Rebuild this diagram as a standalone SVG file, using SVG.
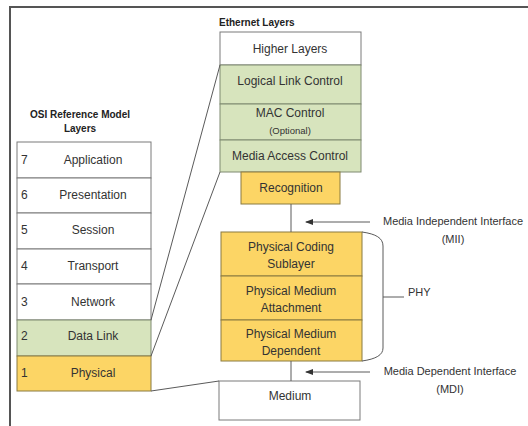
<svg xmlns="http://www.w3.org/2000/svg" width="528" height="426" viewBox="0 0 528 426">
<style>
text{font-family:"Liberation Sans",Arial,sans-serif;fill:#333;font-size:12px}
.t{text-anchor:middle}
.b{font-weight:bold;font-size:10px;fill:#222}
.w{fill:#fff;stroke:#7a7a7a;stroke-width:1}
.g{fill:#d7e4bd;stroke:#7f8a70;stroke-width:1}
.y{fill:#fcd565;stroke:#8a7a40;stroke-width:1}
.c{stroke:#5a5a5a;stroke-width:1;fill:none}
.s{font-size:9.5px}
.i{font-size:11px}
</style>
<defs>
<marker id="ah" markerWidth="8" markerHeight="6" refX="7" refY="3" orient="auto" markerUnits="userSpaceOnUse">
<path d="M0,0 L8,3 L0,6 z" fill="#333"/>
</marker>
</defs>
<rect width="528" height="426" fill="#fff"/>
<g id="frame" stroke="#555" stroke-width="2" fill="none">
<path d="M10,426 L10,7 L528,7"/>
</g>
<g id="osi-title"><text class="t b" x="80" y="118">OSI Reference Model</text><text class="t b" x="80" y="132">Layers</text></g>
<g id="osi7"><rect class="w" x="17" y="142" width="134" height="36"/><text x="21" y="164">7</text><text class="t" x="93" y="164">Application</text></g>
<g id="osi6"><rect class="w" x="17" y="178" width="134" height="35"/><text x="21" y="199">6</text><text class="t" x="93" y="199">Presentation</text></g>
<g id="osi5"><rect class="w" x="17" y="213" width="134" height="36"/><text x="21" y="234">5</text><text class="t" x="93" y="234">Session</text></g>
<g id="osi4"><rect class="w" x="17" y="249" width="134" height="35"/><text x="21" y="270">4</text><text class="t" x="93" y="270">Transport</text></g>
<g id="osi3"><rect class="w" x="17" y="284" width="134" height="36"/><text x="21" y="306">3</text><text class="t" x="93" y="306">Network</text></g>
<g id="osi2"><rect class="g" x="17" y="320" width="134" height="36"/><text x="21" y="340">2</text><text class="t" x="93" y="340">Data Link</text></g>
<g id="osi1"><rect class="y" x="17" y="356" width="134" height="35"/><text x="21" y="377">1</text><text class="t" x="93" y="377">Physical</text></g>
<g id="eth-title"><text class="b" x="219" y="26">Ethernet Layers</text></g>
<g id="higher"><rect class="w" x="220" y="32" width="141" height="33"/><text class="t" x="290" y="53">Higher Layers</text></g>
<g id="llc"><rect class="g" x="220" y="65" width="141" height="39"/><text class="t" x="290" y="85">Logical Link Control</text></g>
<g id="macctl"><rect class="g" x="220" y="104" width="141" height="36"/><text class="t" x="290" y="117">MAC Control</text><text class="t s" x="290" y="134">(Optional)</text></g>
<g id="mac"><rect class="g" x="220" y="140" width="141" height="32"/><text class="t" x="290" y="160">Media Access Control</text></g>
<g id="recog"><rect class="y" x="241" y="172" width="99" height="32"/><text class="t" x="291" y="192">Recognition</text></g>
<g id="pcs"><rect class="y" x="221" y="232" width="141" height="44"/><text class="t" x="291" y="251">Physical Coding</text><text class="t" x="291" y="268">Sublayer</text></g>
<g id="pma"><rect class="y" x="221" y="276" width="141" height="44"/><text class="t" x="291" y="295">Physical Medium</text><text class="t" x="291" y="312">Attachment</text></g>
<g id="pmd"><rect class="y" x="221" y="320" width="141" height="41"/><text class="t" x="291" y="338">Physical Medium</text><text class="t" x="291" y="355">Dependent</text></g>
<g id="medium"><rect class="w" x="219" y="381" width="141" height="39"/><text class="t" x="290" y="400">Medium</text></g>
<g id="mii-label"><text class="t i" x="453" y="225">Media Independent Interface</text><text class="t i" x="453" y="243">(MII)</text></g>
<g id="mdi-label"><text class="t i" x="450" y="375">Media Dependent Interface</text><text class="t i" x="450" y="393">(MDI)</text></g>
<g id="phy-label"><text class="i" x="408" y="296">PHY</text></g>
<g id="connectors">
<path class="c" d="M151,320 L220,65"/>
<path class="c" d="M151,356 L220,172"/>
<path class="c" d="M151,391 L219,381"/>
<path class="c" d="M291,204 L291,232"/>
<path class="c" d="M291,361 L291,381"/>
<path class="c" d="M370,222 L306,222" marker-end="url(#ah)"/>
<path class="c" d="M370,372 L306,372" marker-end="url(#ah)"/>
<path class="c" d="M362,232 C376,234 383,238 383,246 L383,348 C383,355 376,359 362,361"/>
<path class="c" d="M383,297 L404,297" stroke-width="1.5"/>
</g>
</svg>
